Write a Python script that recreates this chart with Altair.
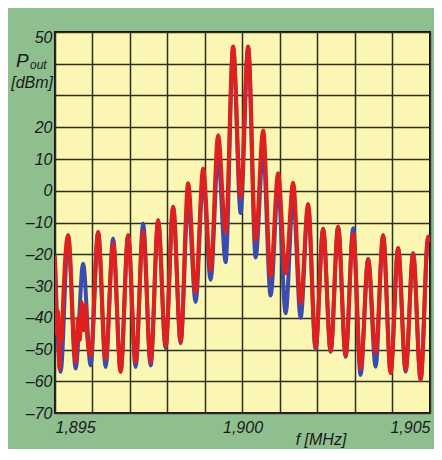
import altair as alt
import pandas as pd

# ---- data ----
freq_blue = [1.89500, 1.89515, 1.89535, 1.89555, 1.89575, 1.89595, 1.89615, 1.89635,
             1.89655, 1.89675, 1.89695, 1.89715, 1.89735, 1.89755, 1.89775, 1.89795,
             1.89815, 1.89835, 1.89855, 1.89875, 1.89895, 1.89915, 1.89935, 1.89955,
             1.89975, 1.89995, 1.90015, 1.90035, 1.90055, 1.90075, 1.90095, 1.90115,
             1.90135, 1.90155, 1.90175, 1.90195, 1.90215, 1.90235, 1.90255, 1.90275,
             1.90295, 1.90315, 1.90335, 1.90355, 1.90375, 1.90395, 1.90415, 1.90435,
             1.90455, 1.90475, 1.90495, 1.90500]
db_blue = [-22, -57, -14, -56, -23, -55, -13, -55.5,
           -15, -57, -14, -55.5, -10.3, -55, -9.5, -49.5,
           -5, -48, -3, -35, 3.5, -28, 11, -22.5,
           45, -7, 45, -21, 12.5, -33, 1.3, -38.6,
           -2, -40, -5, -50, -12, -50.7, -11.3, -52.3,
           -11.8, -58, -21.5, -55.4, -14, -57, -18, -57,
           -19.7, -59.6, -14.5, -15.5]

freq_red = [1.89500, 1.89505, 1.89508, 1.89512, 1.89515, 1.89518, 1.89521, 1.89535,
            1.89555, 1.89562, 1.89566, 1.89571, 1.89576, 1.89581, 1.89586, 1.89595,
            1.89615, 1.89635, 1.89655, 1.89675, 1.89695, 1.89715, 1.89735, 1.89755,
            1.89775, 1.89795, 1.89815, 1.89835, 1.89855, 1.89875, 1.89895, 1.89915,
            1.89935, 1.89955, 1.89975, 1.89995, 1.90015, 1.90035, 1.90055, 1.90075,
            1.90095, 1.90115, 1.90135, 1.90155, 1.90175, 1.90195, 1.90215, 1.90235,
            1.90255, 1.90275, 1.90295, 1.90315, 1.90335, 1.90355, 1.90375, 1.90395,
            1.90415, 1.90435, 1.90455, 1.90475, 1.90495, 1.90500]
db_red = [-21, -45, -38, -56, -42, -47, -37, -14,
          -54, -40, -47, -35, -44, -36, -46, -52,
          -13, -53, -16.5, -57, -14, -54, -13, -54,
          -9.2, -49, -5, -47.5, 2.4, -32, 7, -25,
          17.5, -13, 45.4, -2, 45.4, -15.5, 19, -27,
          5.5, -26, 2.5, -35.5, -4.2, -49.5, -12, -50.5,
          -11.3, -52, -13.5, -56, -21.5, -51, -14, -57.5,
          -18, -56.5, -19.7, -59.6, -14.5, -15.5]

x_grid = [1.895, 1.896, 1.897, 1.898, 1.899, 1.900, 1.901, 1.902, 1.903, 1.904, 1.905]
x_label_values = [1.895, 1.900, 1.905]
x_label_text = ["1,895", "1,900", "1,905"]
y_ticks = [-70, -60, -50, -40, -30, -20, -10, 0, 10, 20, 30, 40, 50]
y_hidden = [40, 30]

FONT = "Liberation Sans"

x_expr = " : ".join(
    f"abs(datum.value - {v}) < 1e-7 ? '{t}'" for v, t in zip(x_label_values, x_label_text)
) + " : ''"
y_expr = (" || ".join(f"datum.value == {v}" for v in y_hidden)
          + " ? '' : (datum.value < 0 ? '\u2013' + abs(datum.value) : '' + datum.value)")

xscale = alt.Scale(domain=[1.895, 1.905], nice=False, zero=False)
yscale = alt.Scale(domain=[-70, 50], nice=False, zero=False)

xaxis = alt.Axis(values=x_grid, labelExpr=x_expr, title=None, grid=True, ticks=False,
                 domain=False, labelFlush=True, labelOverlap=False, labelPadding=6,
                 labelFont=FONT, labelFontSize=16, labelFontStyle="italic",
                 labelColor="#1a1a1a", gridColor="#2e2e22", gridWidth=1.5, gridOpacity=1)
yaxis = alt.Axis(values=y_ticks, labelExpr=y_expr, title=None, grid=True, ticks=False,
                 domain=False, labelOverlap=False, labelPadding=3,
                 labelOffset={"condition": {"test": "datum.value == 50", "value": 5}, "value": 0},
                 labelFont=FONT, labelFontSize=16, labelFontStyle="italic",
                 labelColor="#1a1a1a", gridColor="#2e2e22", gridWidth=1.5, gridOpacity=1)

df_blue = pd.DataFrame({"f": freq_blue, "p": db_blue})
df_red = pd.DataFrame({"f": freq_red, "p": db_red})

enc = dict(
    x=alt.X("f:Q", scale=xscale, axis=xaxis),
    y=alt.Y("p:Q", scale=yscale, axis=yaxis),
)

blue = alt.Chart(df_blue).mark_line(
    color="#3a4cb0", strokeWidth=4, interpolate="monotone", clip=True, strokeCap="round"
).encode(**enc)
red = alt.Chart(df_red).mark_line(
    color="#e0201e", strokeWidth=4, interpolate="monotone", clip=True, strokeCap="round"
).encode(**enc)

txt_df = pd.DataFrame({"t": ["P", "out", "[dBm]", "f [MHz]"]})


def label(t, x, y, size, align):
    return alt.Chart(txt_df).transform_filter(alt.datum.t == t).mark_text(
        font=FONT, fontSize=size, fontStyle="italic", color="#1a1a1a",
        align=align, baseline="alphabetic"
    ).encode(text="t:N", x=alt.value(x), y=alt.value(y))


texts = [
    label("P", -39, 35, 19, "left"),
    label("out", -25, 37, 12, "left"),
    label("[dBm]", -2, 56, 16, "right"),
    label("f [MHz]", 266, 413, 16, "center"),
]

chart = alt.layer(blue, red, *texts).properties(
    width=375, height=381,
    padding={"left": 47, "top": 24, "right": 4, "bottom": 36},
    autosize=alt.AutoSizeParams(type="none"),
).configure(background="#8fbf8f").configure_view(
    fill="#fbf6b2", stroke="#111111", strokeWidth=2
)

chart.save("out.html", embed_options={"renderer": "svg", "actions": False})
